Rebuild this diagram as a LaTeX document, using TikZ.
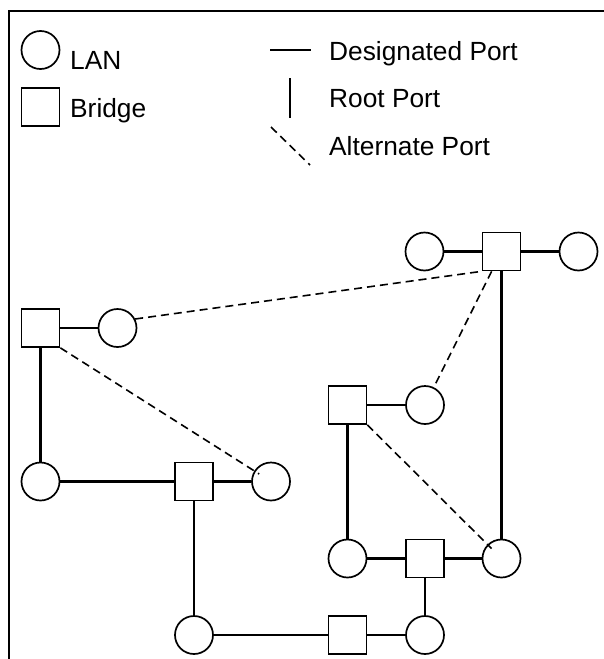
\documentclass[tikz,border=0pt]{standalone}
\usepackage{fontspec}
\setmainfont{Liberation Sans}
\begin{document}
\begin{tikzpicture}[x=1pt,y=-1pt,
  lan/.style={draw,circle,minimum size=38pt,inner sep=0pt,line width=1.7pt},
  bridge/.style={draw,rectangle,minimum size=38pt,inner sep=0pt,line width=1.7pt},
  desig/.style={line width=2.4pt},
  alt/.style={line width=1.6pt,dash pattern=on 8pt off 5pt},
  lbl/.style={anchor=base west,inner sep=0pt,font=\fontsize{26.3}{31}\selectfont}]
\useasboundingbox (0,0) rectangle (604,659);

% frame
\draw[line width=2.2pt] (604,11) -- (9,11) -- (9,659);

% legend: shapes
\node[lan] (keyLan) at (40.5,50) {};
\node[bridge] (keyBridge) at (40.5,107) {};
\node[lbl] (tLan) at (70,69) {LAN};
\node[lbl] (tBridge) at (70,117) {Bridge};

% legend: port types
\coordinate (d1) at (270,50);
\coordinate (d2) at (311,50);
\coordinate (r1) at (290,78);
\coordinate (r2) at (290,118);
\coordinate (a1) at (271,127);
\coordinate (a2) at (310,165);
\draw[desig] (d1) -- (d2);
\draw[desig] (r1) -- (r2);
\draw[alt] (a1) -- (a2);
\node[lbl] (tDes) at (329,60) {Designated Port};
\node[lbl] (tRoot) at (329,107) {Root Port};
\node[lbl] (tAlt) at (329,155) {Alternate Port};

% network
\node[bridge] (root) at (501.5,251.5) {};
\node[lan] (la) at (424.5,251.5) {};
\node[lan] (lb) at (578.5,251.5) {};
\node[bridge] (b1) at (40.5,328) {};
\node[lan] (l1) at (117.5,328) {};
\node[lan] (l2) at (40.5,481.5) {};
\node[bridge] (b2) at (194,481.5) {};
\node[lan] (l3) at (271,481.5) {};
\node[bridge] (bm) at (347.5,405) {};
\node[lan] (lm) at (425,405) {};
\node[lan] (ln) at (347.5,558.5) {};
\node[bridge] (bn) at (425,558.5) {};
\node[lan] (lr) at (501.5,558.5) {};
\node[lan] (lf) at (194,635) {};
\node[bridge] (bf) at (347.5,635) {};
\node[lan] (lg) at (425,635) {};

% designated / root ports
\draw[desig] (la) -- (root);
\draw[desig] (root) -- (lb);
\draw[desig] (root) -- (lr);
\draw[desig] (b1) -- (l1);
\draw[desig] (b1) -- (l2);
\draw[desig] (l2) -- (b2);
\draw[desig] (b2) -- (l3);
\draw[desig] (b2) -- (lf);
\draw[desig] (lf) -- (bf);
\draw[desig] (bf) -- (lg);
\draw[desig] (bn) -- (lg);
\draw[desig] (ln) -- (bn);
\draw[desig] (bn) -- (lr);
\draw[desig] (bm) -- (lm);
\draw[desig] (bm) -- (ln);

% alternate ports
\draw[alt] (l1.27) -- (root.south west);
\draw[alt,shorten >=14pt] (b1.south east) -- (l3.center);
\draw[alt] (root) -- (lm);
\draw[alt,shorten >=14pt] (bm.south east) -- (lr.center);
\end{tikzpicture}
\end{document}
